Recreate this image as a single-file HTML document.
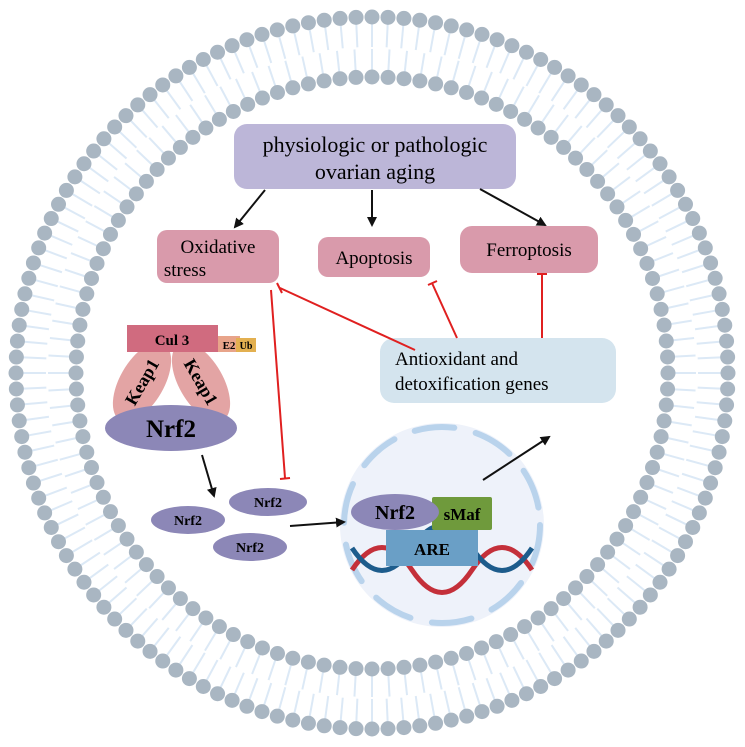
<!DOCTYPE html>
<html><head><meta charset="utf-8"><style>
body{margin:0;background:#fff;}
svg{display:block;font-family:"Liberation Serif",serif;}
</style></head><body>
<svg width="745" height="747" viewBox="0 0 745 747">
<defs>
<marker id="ah" markerWidth="10" markerHeight="10" refX="8" refY="5" orient="auto" markerUnits="userSpaceOnUse"><path d="M0,0 L10,5 L0,10 z" fill="#111"/></marker>
</defs>
<g id="membrane"></g>
<g>
<circle cx="442" cy="525" r="102" fill="#eef2fa"/>
<circle cx="442" cy="525" r="98" fill="none" stroke="#b9d3ec" stroke-width="6" stroke-linecap="round" stroke-dasharray="40 22"/>
</g>
<g fill="none" stroke-width="5">
<path d="M352,570 C372,540 392,540 412,570 S452,600 472,570 S512,540 532,570" stroke="#c4303a"/>
<path d="M352,548 C372,578 392,578 412,548 S452,518 472,548 S512,578 532,548" stroke="#1d5c8c"/>
</g>
<rect x="386" y="530" width="92" height="36" fill="#6a9fc6"/>
<text x="432" y="555" text-anchor="middle" font-size="17" font-weight="bold">ARE</text>
<rect x="432" y="497" width="60" height="33" rx="2" fill="#6f9a3c"/>
<text x="462" y="520" text-anchor="middle" font-size="17" font-weight="bold">sMaf</text>
<ellipse cx="395" cy="512" rx="44" ry="18" fill="#8c87b7"/>
<text x="395" y="519" text-anchor="middle" font-size="20" font-weight="bold">Nrf2</text>

<rect x="234" y="124" width="282" height="65" rx="13" fill="#bcb6d8"/>
<text x="375" y="152" text-anchor="middle" font-size="22">physiologic or pathologic</text>
<text x="375" y="179" text-anchor="middle" font-size="22">ovarian aging</text>
<rect x="157" y="230" width="122" height="53" rx="10" fill="#d99aab"/>
<text x="218" y="253" text-anchor="middle" font-size="19">Oxidative</text>
<text x="185" y="276" text-anchor="middle" font-size="19">stress</text>
<rect x="318" y="237" width="112" height="40" rx="10" fill="#d99aab"/>
<text x="374" y="264" text-anchor="middle" font-size="19">Apoptosis</text>
<rect x="460" y="226" width="138" height="47" rx="12" fill="#d99aab"/>
<text x="529" y="256" text-anchor="middle" font-size="19">Ferroptosis</text>
<rect x="380" y="338" width="236" height="65" rx="14" fill="#d4e4ee"/>
<text x="395" y="365" font-size="19">Antioxidant and</text>
<text x="395" y="390" font-size="19">detoxification genes</text>

<g>
<ellipse cx="142" cy="382" rx="22" ry="44" fill="#e3a4a4" transform="rotate(30 142 382)"/>
<ellipse cx="201" cy="382" rx="22" ry="44" fill="#e3a4a4" transform="rotate(-30 201 382)"/>
<text x="142" y="388" text-anchor="middle" font-size="18" font-weight="bold" transform="rotate(-60 142 382)">Keap1</text>
<text x="201" y="388" text-anchor="middle" font-size="18" font-weight="bold" transform="rotate(60 201 382)">Keap1</text>
<rect x="218" y="336" width="22" height="16" fill="#e8a48a"/>
<text x="229" y="349" text-anchor="middle" font-size="11" font-weight="bold">E2</text>
<rect x="236" y="338" width="20" height="14" fill="#e3b050"/>
<text x="246" y="349" text-anchor="middle" font-size="10" font-weight="bold">Ub</text>
<rect x="127" y="325" width="91" height="27" fill="#d06b7f"/>
<text x="172" y="345" text-anchor="middle" font-size="15" font-weight="bold">Cul 3</text>
<ellipse cx="171" cy="428" rx="66" ry="23" fill="#8c87b7"/>
<text x="171" y="437" text-anchor="middle" font-size="25" font-weight="bold">Nrf2</text>
</g>
<g>
<ellipse cx="188" cy="520" rx="37" ry="14" fill="#8c87b7"/><text x="188" y="525" text-anchor="middle" font-size="14" font-weight="bold">Nrf2</text>
<ellipse cx="268" cy="502" rx="39" ry="14" fill="#8c87b7"/><text x="268" y="507" text-anchor="middle" font-size="14" font-weight="bold">Nrf2</text>
<ellipse cx="250" cy="547" rx="37" ry="14" fill="#8c87b7"/><text x="250" y="552" text-anchor="middle" font-size="14" font-weight="bold">Nrf2</text>
</g>
<g stroke="#111" stroke-width="2" marker-end="url(#ah)">
<line x1="265" y1="190" x2="235" y2="227"/>
<line x1="372" y1="190" x2="372" y2="225"/>
<line x1="480" y1="189" x2="545" y2="225"/>
<line x1="202" y1="455" x2="214" y2="496"/>
<line x1="290" y1="526" x2="344" y2="522"/>
<line x1="483" y1="480" x2="549" y2="437"/>
</g>
<g stroke="#e02020" stroke-width="2" fill="none">
<path d="M415,350 L280,288 M277,283 L282,293"/>
<path d="M457,338 L432,283 M428,285 L437,281"/>
<path d="M542,338 L542,274 M537,274 L547,274"/>
<path d="M271,290 L285,478 M280,479 L290,478"/>
</g>
</svg>
<script>
const NS='http://www.w3.org/2000/svg';
const g=document.getElementById('membrane');
const cx=372,cy=373;
function ring(r,n,tr){for(let i=0;i<n;i++){const a=i/n*2*Math.PI;
const l=document.createElementNS(NS,'line');
const r2=r+tr;
l.setAttribute('x1',cx+(r+ (tr>0?7:-7))*Math.cos(a));l.setAttribute('y1',cy+(r+(tr>0?7:-7))*Math.sin(a));
l.setAttribute('x2',cx+r2*Math.cos(a));l.setAttribute('y2',cy+r2*Math.sin(a));
l.setAttribute('stroke','#dce9f6');l.setAttribute('stroke-width','2');


g.appendChild(l);
const c=document.createElementNS(NS,'circle');
c.setAttribute('cx',cx+r*Math.cos(a));c.setAttribute('cy',cy+r*Math.sin(a));c.setAttribute('r',7.5);c.setAttribute('fill','#a9b6c2');


g.appendChild(c);}}
ring(356,140,-30);
ring(296,116,28);
</script>
</body></html>
